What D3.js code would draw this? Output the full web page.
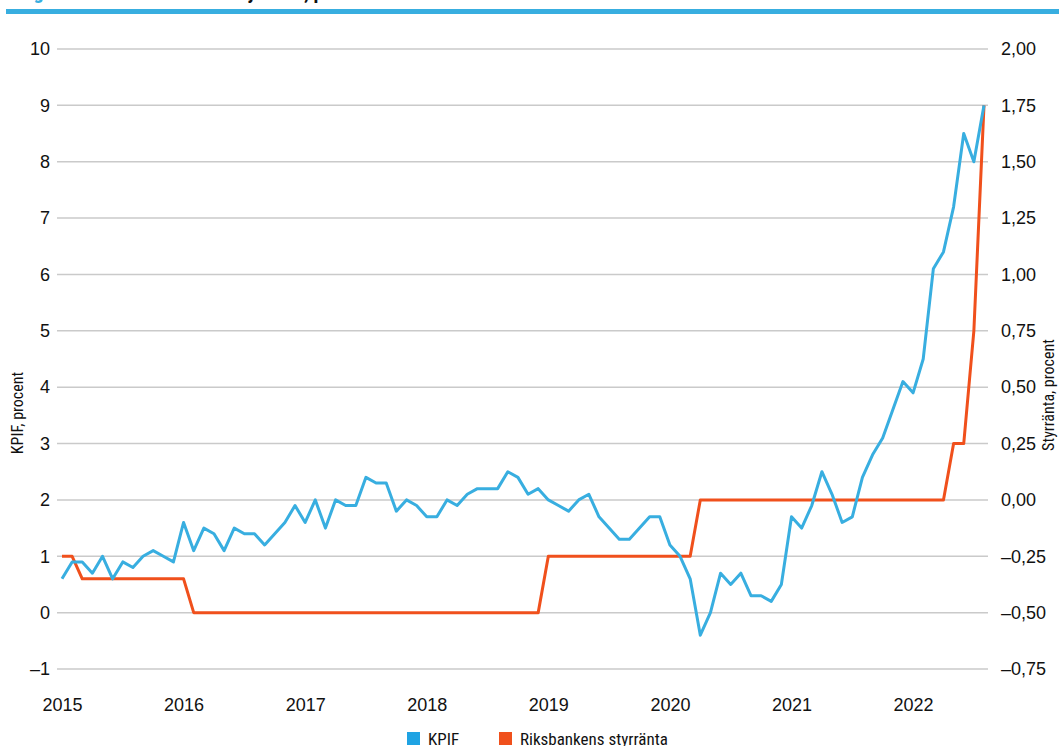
<!DOCTYPE html>
<html>
<head>
<meta charset="utf-8">
<script src="https://cdn.jsdelivr.net/npm/d3@7"></script>
<style>
  html, body { margin: 0; padding: 0; background: #fff; overflow: hidden; }
  svg { display: block; font-family: "Liberation Sans Narrow", "Roboto Condensed", "DejaVu Sans Condensed", "Arial Narrow", sans-serif; }
</style>
</head>
<body>
<div id="chart"></div>
<script>
// monthly data, jan 2015 - aug 2022
const months = d3.timeMonths(new Date(2015, 0, 1), new Date(2022, 8, 1));

// KPIF, percent (left axis)
const kpif = [
  0.6, 0.9, 0.9, 0.7, 1.0, 0.6, 0.9, 0.8, 1.0, 1.1, 1.0, 0.9,
  1.6, 1.1, 1.5, 1.4, 1.1, 1.5, 1.4, 1.4, 1.2, 1.4, 1.6, 1.9,
  1.6, 2.0, 1.5, 2.0, 1.9, 1.9, 2.4, 2.3, 2.3, 1.8, 2.0, 1.9,
  1.7, 1.7, 2.0, 1.9, 2.1, 2.2, 2.2, 2.2, 2.5, 2.4, 2.1, 2.2,
  2.0, 1.9, 1.8, 2.0, 2.1, 1.7, 1.5, 1.3, 1.3, 1.5, 1.7, 1.7,
  1.2, 1.0, 0.6, -0.4, 0.0, 0.7, 0.5, 0.7, 0.3, 0.3, 0.2, 0.5,
  1.7, 1.5, 1.9, 2.5, 2.1, 1.6, 1.7, 2.4, 2.8, 3.1, 3.6, 4.1,
  3.9, 4.5, 6.1, 6.4, 7.2, 8.5, 8.0, 9.0
];

// riksbankens styrränta, percent (right axis)
const styrranta = [
  -0.25, -0.25, -0.35, -0.35, -0.35, -0.35, -0.35, -0.35, -0.35, -0.35, -0.35, -0.35,
  -0.35, -0.50, -0.50, -0.50, -0.50, -0.50, -0.50, -0.50, -0.50, -0.50, -0.50, -0.50,
  -0.50, -0.50, -0.50, -0.50, -0.50, -0.50, -0.50, -0.50, -0.50, -0.50, -0.50, -0.50,
  -0.50, -0.50, -0.50, -0.50, -0.50, -0.50, -0.50, -0.50, -0.50, -0.50, -0.50, -0.50,
  -0.25, -0.25, -0.25, -0.25, -0.25, -0.25, -0.25, -0.25, -0.25, -0.25, -0.25, -0.25,
  -0.25, -0.25, -0.25, 0.00, 0.00, 0.00, 0.00, 0.00, 0.00, 0.00, 0.00, 0.00,
  0.00, 0.00, 0.00, 0.00, 0.00, 0.00, 0.00, 0.00, 0.00, 0.00, 0.00, 0.00,
  0.00, 0.00, 0.00, 0.00, 0.25, 0.25, 0.75, 1.75
];

const leftTicks = [-1, 0, 1, 2, 3, 4, 5, 6, 7, 8, 9, 10];
const rightTicks = [-0.75, -0.5, -0.25, 0, 0.25, 0.5, 0.75, 1, 1.25, 1.5, 1.75, 2];
const years = [2015, 2016, 2017, 2018, 2019, 2020, 2021, 2022];

const seriesNames = ['KPIF', 'Riksbankens styrränta'];
const blue = '#38aee0';
const red = '#f0501c';

const width = 1059, height = 746;

let svg = d3.select('#chart')
  .append('svg')
  .attr('width', width)
  .attr('height', height);

// cut off header: only the descenders of the title show above the blue rule
svg.append('text')
  .attr('x', 19)
  .attr('y', -1)
  .attr('fill', blue)
  .style('font-size', '20px')
  .style('font-weight', 'bold')
  .text('Figur 1.');

svg.append('text')
  .attr('x', 304)
  .attr('y', -1)
  .attr('text-anchor', 'end')
  .attr('fill', '#111')
  .style('font-size', '20px')
  .style('font-weight', 'bold')
  .text('Inflation och styrränta');

svg.append('text')
  .attr('x', 304)
  .attr('y', -1)
  .attr('fill', '#111')
  .style('font-size', '20px')
  .style('font-weight', 'bold')
  .text(', procent');

svg.append('rect')
  .attr('x', 6)
  .attr('y', 9)
  .attr('width', width - 6)
  .attr('height', 5)
  .attr('fill', blue);

let xScale = d3.scalePoint()
  .domain(months.map(d => +d))
  .range([62, 984]);

let yLeft = d3.scaleLinear()
  .domain([-1, 10])
  .range([669, 49]);

let yRight = d3.scaleLinear()
  .domain([-0.75, 2])
  .range([669, 49]);

// gridlines
svg.append('g')
  .selectAll('line')
  .data(leftTicks)
  .enter()
  .append('line')
  .attr('x1', 57)
  .attr('x2', 988)
  .attr('y1', d => yLeft(d))
  .attr('y2', d => yLeft(d))
  .attr('stroke', '#cacaca')
  .attr('stroke-width', 1.5);

const fmtLeft = d => (d < 0 ? '\u2013' : '') + Math.abs(d);
const fmtRight = d => (d < 0 ? '\u2013' : '') + d3.format('.2f')(Math.abs(d)).replace('.', ',');

let leftAxis = svg.append('g')
  .attr('transform', 'translate(50, 0)')
  .call(d3.axisLeft(yLeft).tickValues(leftTicks).tickFormat(fmtLeft).tickSize(0).tickPadding(0));

let rightAxis = svg.append('g')
  .attr('transform', 'translate(1001, 0)')
  .call(d3.axisRight(yRight).tickValues(rightTicks).tickFormat(fmtRight).tickSize(0).tickPadding(0));

let xAxis = svg.append('g')
  .attr('transform', 'translate(0, 697)')
  .call(d3.axisBottom(xScale)
    .tickValues(years.map(y => +new Date(y, 0, 1)))
    .tickFormat(d => new Date(d).getFullYear())
    .tickSize(0)
    .tickPadding(0));

[leftAxis, rightAxis, xAxis].forEach(a => {
  a.select('.domain').remove();
  a.selectAll('text')
    .attr('fill', '#111')
    .style('font-size', '18px')
    .style('font-family', null);
});
xAxis.selectAll('text').attr('dy', '0.8em');

// axis titles
svg.append('text')
  .attr('transform', 'translate(23, 413) rotate(-90)')
  .attr('text-anchor', 'middle')
  .attr('fill', '#111')
  .style('font-size', '16px')
  .text('KPIF, procent');

svg.append('text')
  .attr('transform', 'translate(1054, 395) rotate(-90)')
  .attr('text-anchor', 'middle')
  .attr('fill', '#111')
  .style('font-size', '16px')
  .text('Styrränta, procent');

// lines
let kpifLine = d3.line()
  .x((d, i) => xScale(+months[i]))
  .y(d => yLeft(d));

let rateLine = d3.line()
  .x((d, i) => xScale(+months[i]))
  .y(d => yRight(d));

svg.append('path')
  .datum(styrranta)
  .attr('d', rateLine)
  .attr('fill', 'none')
  .attr('stroke', red)
  .attr('stroke-width', 3)
  .attr('stroke-linejoin', 'round');

svg.append('path')
  .datum(kpif)
  .attr('d', kpifLine)
  .attr('fill', 'none')
  .attr('stroke', blue)
  .attr('stroke-width', 3)
  .attr('stroke-linejoin', 'round');

// legend
const legendX = [407, 499];
let legend = svg.append('g')
  .selectAll('g')
  .data(seriesNames)
  .enter()
  .append('g')
  .attr('transform', (d, i) => `translate(${legendX[i]}, 732)`);

legend.append('rect')
  .attr('width', 13)
  .attr('height', 13)
  .attr('fill', (d, i) => i === 0 ? '#1fa3e3' : red);

legend.append('text')
  .attr('x', 21)
  .attr('y', 13)
  .attr('fill', '#111')
  .style('font-size', '17px')
  .text(d => d);
</script>
</body>
</html>
